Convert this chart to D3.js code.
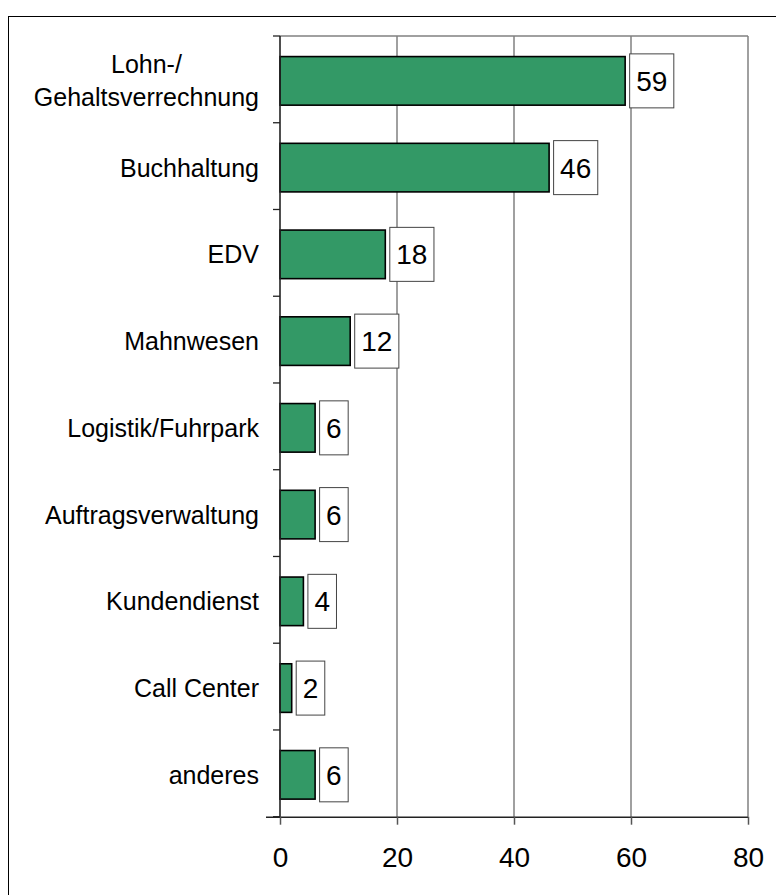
<!DOCTYPE html>
<html><head><meta charset="utf-8">
<script src="https://cdn.jsdelivr.net/npm/d3@7"></script>
<style>html,body{margin:0;padding:0;background:#fff;}svg{display:block;}</style>
</head><body>
<svg id="c" width="776" height="895"></svg>
<script>
const categories = ["Lohn-/\nGehaltsverrechnung","Buchhaltung","EDV","Mahnwesen","Logistik/Fuhrpark","Auftragsverwaltung","Kundendienst","Call Center","anderes"];
const values = [59,46,18,12,6,6,4,2,6];
const xTicks = [0,20,40,60,80];

const svg = d3.select("#c");
const font = "'Liberation Sans', Arial, sans-serif";
const m = {left:280, top:36, right:748, bottom:816.7};

svg.append("rect").attr("x",8.5).attr("y",16.5).attr("width",900).attr("height",900)
  .attr("fill","#fff").attr("stroke","#000").attr("stroke-width",1);

const x = d3.scaleLinear().domain([0,80]).range([m.left,m.right]);
const y = d3.scaleBand().domain(categories).range([m.top,m.bottom]).paddingInner(0.44).paddingOuter(0.22);
const band = (m.bottom-m.top)/categories.length;

// gridlines
svg.append("g").selectAll("line").data(xTicks.slice(1)).join("line")
  .attr("x1",d=>x(d)).attr("x2",d=>x(d)).attr("y1",m.top).attr("y2",m.bottom)
  .attr("stroke","#808080").attr("stroke-width",1.5);
svg.append("line").attr("x1",m.left).attr("x2",m.right).attr("y1",m.top).attr("y2",m.top)
  .attr("stroke","#808080").attr("stroke-width",1.5);

// bars
const off = 1.5;
svg.append("g").selectAll("rect").data(values).join("rect")
  .attr("x",x(0)).attr("y",(d,i)=>y(categories[i])+off)
  .attr("width",d=>x(d)-x(0)).attr("height",y.bandwidth())
  .attr("fill","#339966").attr("stroke","#000").attr("stroke-width",1.6);

// value labels
const lg = svg.append("g");
values.forEach((v,i)=>{
  const cy = y(categories[i])+off+y.bandwidth()/2;
  const t = lg.append("text").attr("font-family",font).attr("font-size",28).attr("fill","#000")
    .attr("text-anchor","middle").text(v);
  const w = t.node().getComputedTextLength()+13;
  const bx = x(v)+4.5;
  lg.insert("rect","text").attr("x",bx).attr("y",cy-27).attr("width",w).attr("height",54)
    .attr("fill","#fff").attr("stroke","#444").attr("stroke-width",1);
  t.attr("x",bx+w/2).attr("y",cy+10);
});

// axes
const xAxis = d3.axisBottom(x).tickValues(xTicks).tickSize(8).tickPadding(22).tickFormat(d3.format("d"));
const gx = svg.append("g").attr("transform",`translate(0,${m.bottom})`).call(xAxis);
gx.select(".domain").attr("stroke","#222").attr("stroke-width",1.6).attr("d",`M${m.left-14},0.5H${m.right}`);
gx.selectAll(".tick line").attr("stroke","#555").attr("stroke-width",1.5);
gx.selectAll("text").attr("font-family",font).attr("font-size",28).attr("fill","#000");

// left axis
svg.append("line").attr("x1",m.left).attr("x2",m.left).attr("y1",m.top).attr("y2",m.bottom)
  .attr("stroke","#222").attr("stroke-width",1.6);
svg.append("g").selectAll("line").data(d3.range(categories.length+1)).join("line")
  .attr("x1",m.left-7).attr("x2",m.left).attr("y1",i=>m.top+i*band).attr("y2",i=>m.top+i*band)
  .attr("stroke","#222").attr("stroke-width",1.3);

// category labels
const cg = svg.append("g");
categories.forEach((c,i)=>{
  const lines = c.split("\n");
  const cy = y(c)+off+y.bandwidth()/2;
  const t = cg.append("text").attr("font-family",font).attr("font-size",25).attr("fill","#000");
  const lh = 33;
  lines.forEach((l,j)=>{
    t.append("tspan").attr("y",cy+9-(lines.length-1)*lh/2+j*lh).text(l);
  });
  if(lines.length===1){
    t.attr("text-anchor","end").selectAll("tspan").attr("x",259);
  } else {
    const mw = d3.max(t.selectAll("tspan").nodes(),n=>n.getComputedTextLength());
    t.attr("text-anchor","middle").selectAll("tspan").attr("x",259-mw/2);
  }
});
</script>
</body></html>
